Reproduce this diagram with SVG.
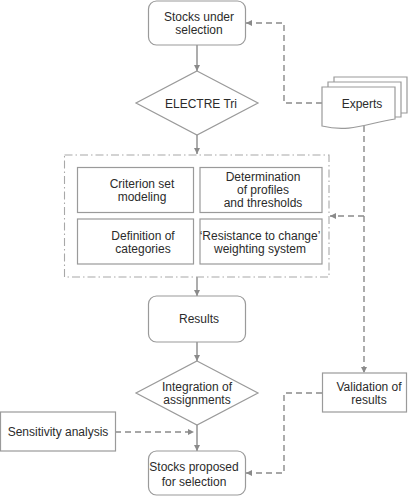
<svg xmlns="http://www.w3.org/2000/svg" width="411" height="500" viewBox="0 0 411 500">
<style>
text{font-family:"Liberation Sans",Arial,sans-serif;font-size:12px;fill:#2b2b2b;text-anchor:middle}
.box{fill:#fff;stroke:#9a9a9a;stroke-width:1.2}
.ln{fill:none;stroke:#8a8a8a;stroke-width:1.4}
.dl{fill:none;stroke:#8a8a8a;stroke-width:1.4;stroke-dasharray:6 4}
.dd{fill:none;stroke:#a8a8a8;stroke-width:1.1;stroke-dasharray:8 3 1.5 3}
</style>
<defs>
<marker id="ah" viewBox="0 0 10 10" refX="10" refY="5" markerWidth="6" markerHeight="6" orient="auto" markerUnits="userSpaceOnUse">
<path d="M0,0 L10,5 L0,10 z" fill="#8a8a8a"/>
</marker>
</defs>
<g id="connectors">
<path class="ln" d="M197,45 V71" marker-end="url(#ah)"/>
<path class="ln" d="M197,135 V154" marker-end="url(#ah)"/>
<path class="ln" d="M197,277 V296" marker-end="url(#ah)"/>
<path class="ln" d="M197,342 V361" marker-end="url(#ah)"/>
<path class="ln" d="M197,425 V451" marker-end="url(#ah)"/>
<path class="dl" d="M322,103 H284 V23 H246" marker-end="url(#ah)"/>
<path class="dl" d="M364,126 V373" marker-end="url(#ah)"/>
<path class="dl" d="M364,216 H330" marker-end="url(#ah)"/>
<path class="dl" d="M322,393 H284 V473 H246" marker-end="url(#ah)"/>
<path class="dl" d="M115,432 H194" marker-end="url(#ah)"/>
</g>
<g id="stocks-under-selection">
<rect class="box" x="148.5" y="1" width="97" height="44" rx="8"/>
<text x="199" y="21">Stocks under</text>
<text x="199" y="34">selection</text>
</g>
<g id="electre-tri">
<path class="box" d="M197,71 L258,103 L197,135 L136,103 z"/>
<text x="201" y="108">ELECTRE Tri</text>
</g>
<g id="experts">
<path class="box" d="M334,77 H407 V113 H334 z"/>
<path class="box" d="M328,82 H401 V117 H328 z"/>
<path class="box" d="M322,87 H395 V119 C368,123 350,133 322,126 z"/>
<text x="362" y="108">Experts</text>
</g>
<g id="model-group">
<rect class="dd" x="64.5" y="155" width="264.5" height="122"/>
</g>
<g id="criterion-set-modeling">
<rect class="box" x="77.5" y="167.5" width="116" height="45"/>
<text x="142" y="188">Criterion set</text>
<text x="142" y="201">modeling</text>
</g>
<g id="determination-profiles">
<rect class="box" x="200" y="167.5" width="122" height="45"/>
<text x="263" y="181">Determination</text>
<text x="263" y="194">of profiles</text>
<text x="263" y="207">and thresholds</text>
</g>
<g id="definition-categories">
<rect class="box" x="77.5" y="219" width="116" height="45"/>
<text x="143" y="240">Definition of</text>
<text x="143" y="253">categories</text>
</g>
<g id="resistance-weighting">
<rect class="box" x="200" y="219" width="122" height="45"/>
<text x="260" y="240">‘Resistance to change’</text>
<text x="260" y="253">weighting system</text>
</g>
<g id="results">
<rect class="box" x="148.5" y="296" width="97" height="46" rx="8"/>
<text x="199" y="323">Results</text>
</g>
<g id="integration">
<path class="box" d="M197,361 L258,393 L197,425 L136,393 z"/>
<text x="197" y="391">Integration of</text>
<text x="197" y="404">assignments</text>
</g>
<g id="validation">
<rect class="box" x="322.5" y="373" width="84" height="39"/>
<text x="369" y="391">Validation of</text>
<text x="369" y="404">results</text>
</g>
<g id="sensitivity">
<rect class="box" x="0.5" y="412" width="115" height="39"/>
<text x="58" y="436">Sensitivity analysis</text>
</g>
<g id="stocks-proposed">
<rect class="box" x="148.5" y="451" width="97" height="44" rx="8"/>
<text x="194" y="471">Stocks proposed</text>
<text x="194" y="486">for selection</text>
</g>
</svg>
